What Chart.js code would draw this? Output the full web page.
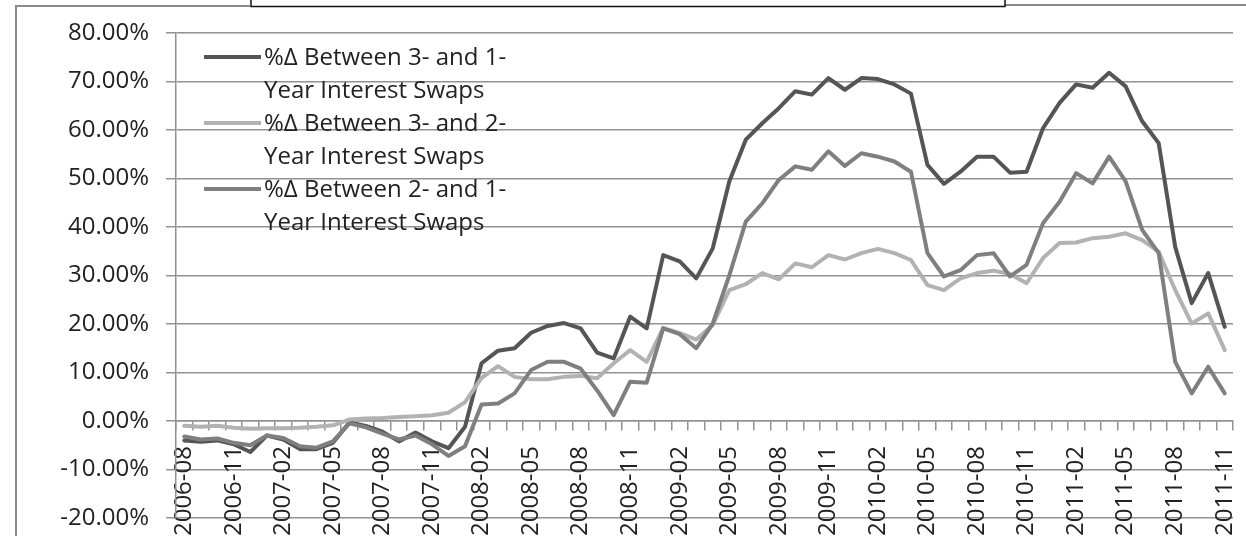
<!DOCTYPE html>
<html>
<head>
<meta charset="utf-8">
<script src="https://cdn.jsdelivr.net/npm/chart.js@4"></script>
<style>
  body { margin: 0; background: #fff; }
  canvas { display: block; }
</style>
</head>
<body>
<canvas id="myChart" width="1246" height="536"></canvas>
<script>
// months, 2006-08 .. 2011-11
const months = [
    "2006-08", "2006-09", "2006-10", "2006-11", "2006-12",
    "2007-01", "2007-02", "2007-03", "2007-04", "2007-05", "2007-06", "2007-07", "2007-08", "2007-09", "2007-10", "2007-11", "2007-12",
    "2008-01", "2008-02", "2008-03", "2008-04", "2008-05", "2008-06", "2008-07", "2008-08", "2008-09", "2008-10", "2008-11", "2008-12",
    "2009-01", "2009-02", "2009-03", "2009-04", "2009-05", "2009-06", "2009-07", "2009-08", "2009-09", "2009-10", "2009-11", "2009-12",
    "2010-01", "2010-02", "2010-03", "2010-04", "2010-05", "2010-06", "2010-07", "2010-08", "2010-09", "2010-10", "2010-11", "2010-12",
    "2011-01", "2011-02", "2011-03", "2011-04", "2011-05", "2011-06", "2011-07", "2011-08", "2011-09", "2011-10", "2011-11"
];

const seriesNames = [
    ["%\u0394 Between 3- and 1-", "Year Interest Swaps"],
    ["%\u0394 Between 3- and 2-", "Year Interest Swaps"],
    ["%\u0394 Between 2- and 1-", "Year Interest Swaps"]
];

// values in percent
const swap3vs1 = [
    -4.0, -4.3, -4.0, -4.8, -6.4, -3.0, -3.8, -5.8, -5.8, -4.5, -0.3, -1.0, -2.2, -4.2, -2.4, -4.2,
    -5.6, -1.2, 11.9, 14.5, 15.0, 18.2, 19.6, 20.2, 19.1, 14.1, 12.9, 21.5, 19.1, 34.2, 32.9, 29.4,
    35.6, 49.4, 58.0, 61.4, 64.5, 68.0, 67.3, 70.7, 68.3, 70.7, 70.5, 69.4, 67.5, 52.8, 48.9, 51.4,
    54.5, 54.5, 51.2, 51.4, 60.4, 65.6, 69.4, 68.7, 71.8, 69.0, 61.8, 57.3, 35.9, 24.3, 30.5, 19.4
];
const swap3vs2 = [
    -1.0, -1.2, -1.0, -1.4, -1.6, -1.5, -1.5, -1.4, -1.2, -0.9, 0.3, 0.5, 0.6, 0.8, 1.0, 1.2,
    1.7, 3.9, 8.9, 11.3, 9.1, 8.6, 8.6, 9.1, 9.3, 8.8, 11.9, 14.6, 12.2, 19.2, 18.1, 16.8,
    19.8, 27.0, 28.2, 30.5, 29.2, 32.5, 31.7, 34.2, 33.3, 34.6, 35.5, 34.6, 33.2, 28.0, 27.0, 29.4,
    30.5, 31.0, 30.3, 28.4, 33.6, 36.7, 36.8, 37.7, 38.0, 38.7, 37.3, 34.9, 27.0, 20.1, 22.2, 14.6
];
const swap2vs1 = [
    -3.2, -3.8, -3.6, -4.5, -5.0, -3.0, -3.5, -5.2, -5.5, -4.2, -0.5, -1.3, -2.6, -3.8, -3.0, -4.8,
    -7.2, -5.2, 3.4, 3.6, 5.7, 10.5, 12.2, 12.2, 10.8, 6.3, 1.2, 8.1, 7.9, 19.1, 17.9, 15.0,
    20.1, 30.0, 41.1, 44.9, 49.7, 52.5, 51.8, 55.6, 52.6, 55.2, 54.5, 53.5, 51.4, 34.6, 29.8, 31.1,
    34.2, 34.6, 29.8, 32.2, 40.8, 45.2, 51.1, 49.0, 54.5, 49.4, 39.4, 34.6, 12.2, 5.7, 11.2, 5.7
];

const lineColors = ["#555555", "#b2b2b2", "#7f7f7f"];
const gridColor = "#929292";
const textColor = "#222222";
const font = "Open Sans";

// frame, cut-off title box and in-plot legend
const decorations = {
    id: "decorations",
    beforeDraw(chart) {
        const ctx = chart.ctx;
        ctx.save();
        ctx.fillStyle = "#ffffff";
        ctx.fillRect(0, 0, chart.width, chart.height);
        ctx.restore();
    },
    afterDraw(chart) {
        const ctx = chart.ctx;
        ctx.save();
        // outer frame
        ctx.strokeStyle = "#8a8a8a";
        ctx.lineWidth = 2;
        ctx.beginPath();
        ctx.moveTo(16, 536);
        ctx.lineTo(16, 6);
        ctx.lineTo(250, 6);
        ctx.moveTo(1005, 5);
        ctx.lineTo(1246, 5);
        ctx.stroke();
        // title box (cut by the top edge)
        ctx.strokeStyle = "#111111";
        ctx.lineWidth = 1.5;
        ctx.strokeRect(251, -10, 754, 16.5);

        // legend
        ctx.font = "24px '" + font + "'";
        ctx.fillStyle = textColor;
        ctx.textBaseline = "middle";
        chart.data.datasets.forEach((ds, i) => {
            const y = 57 + i * 66;
            ctx.strokeStyle = ds.borderColor;
            ctx.lineWidth = 4;
            ctx.beginPath();
            ctx.moveTo(204, y);
            ctx.lineTo(261, y);
            ctx.stroke();
            ds.label.forEach((line, j) => {
                ctx.fillText(line, 264, y + 1 + j * 33);
            });
        });
        ctx.restore();
    }
};

const ctx = document.getElementById("myChart");

new Chart(ctx, {
    type: "line",
    data: {
        labels: months,
        datasets: [
            { label: seriesNames[0], data: swap3vs1, borderColor: lineColors[0], order: 3 },
            { label: seriesNames[1], data: swap3vs2, borderColor: lineColors[1], order: 2 },
            { label: seriesNames[2], data: swap2vs1, borderColor: lineColors[2], order: 1 }
        ]
    },
    options: {
        responsive: false,
        animation: false,
        devicePixelRatio: 1,
        layout: { padding: { left: 0, top: 33, right: 13, bottom: 18 } },
        elements: {
            point: { radius: 0 },
            line: { borderWidth: 4, tension: 0, borderJoinStyle: "round", borderCapStyle: "round", fill: false }
        },
        plugins: {
            legend: { display: false },
            tooltip: { enabled: false }
        },
        scales: {
            x: {
                position: { y: 0 },
                offset: true,
                afterFit: (scale) => {
                    scale.paddingLeft = 0;
                    scale.paddingRight = 0;
                },
                grid: {
                    offset: true,
                    drawOnChartArea: false,
                    drawTicks: true,
                    tickLength: 9,
                    color: gridColor,
                    lineWidth: 1.5
                },
                border: { display: true, color: gridColor, width: 1.5 },
                ticks: {
                    autoSkip: false,
                    minRotation: 90,
                    maxRotation: 90,
                    padding: 16,
                    color: textColor,
                    font: { family: font, size: 24 },
                    callback: (val, i) => (i % 3 === 0 ? months[i] : "")
                }
            },
            y: {
                min: -20,
                max: 80,
                afterFit: (scale) => {
                    scale.width = 176;
                    scale.paddingTop = 0;
                    scale.paddingBottom = 0;
                },
                grid: {
                    color: gridColor,
                    lineWidth: 1.5,
                    drawTicks: true,
                    tickLength: 10
                },
                border: { display: true, color: gridColor, width: 1.5 },
                ticks: {
                    stepSize: 10,
                    padding: 17,
                    color: textColor,
                    font: { family: font, size: 24 },
                    callback: (v) => v.toFixed(2) + "%"
                }
            }
        }
    },
    plugins: [decorations]
});
</script>
</body>
</html>
